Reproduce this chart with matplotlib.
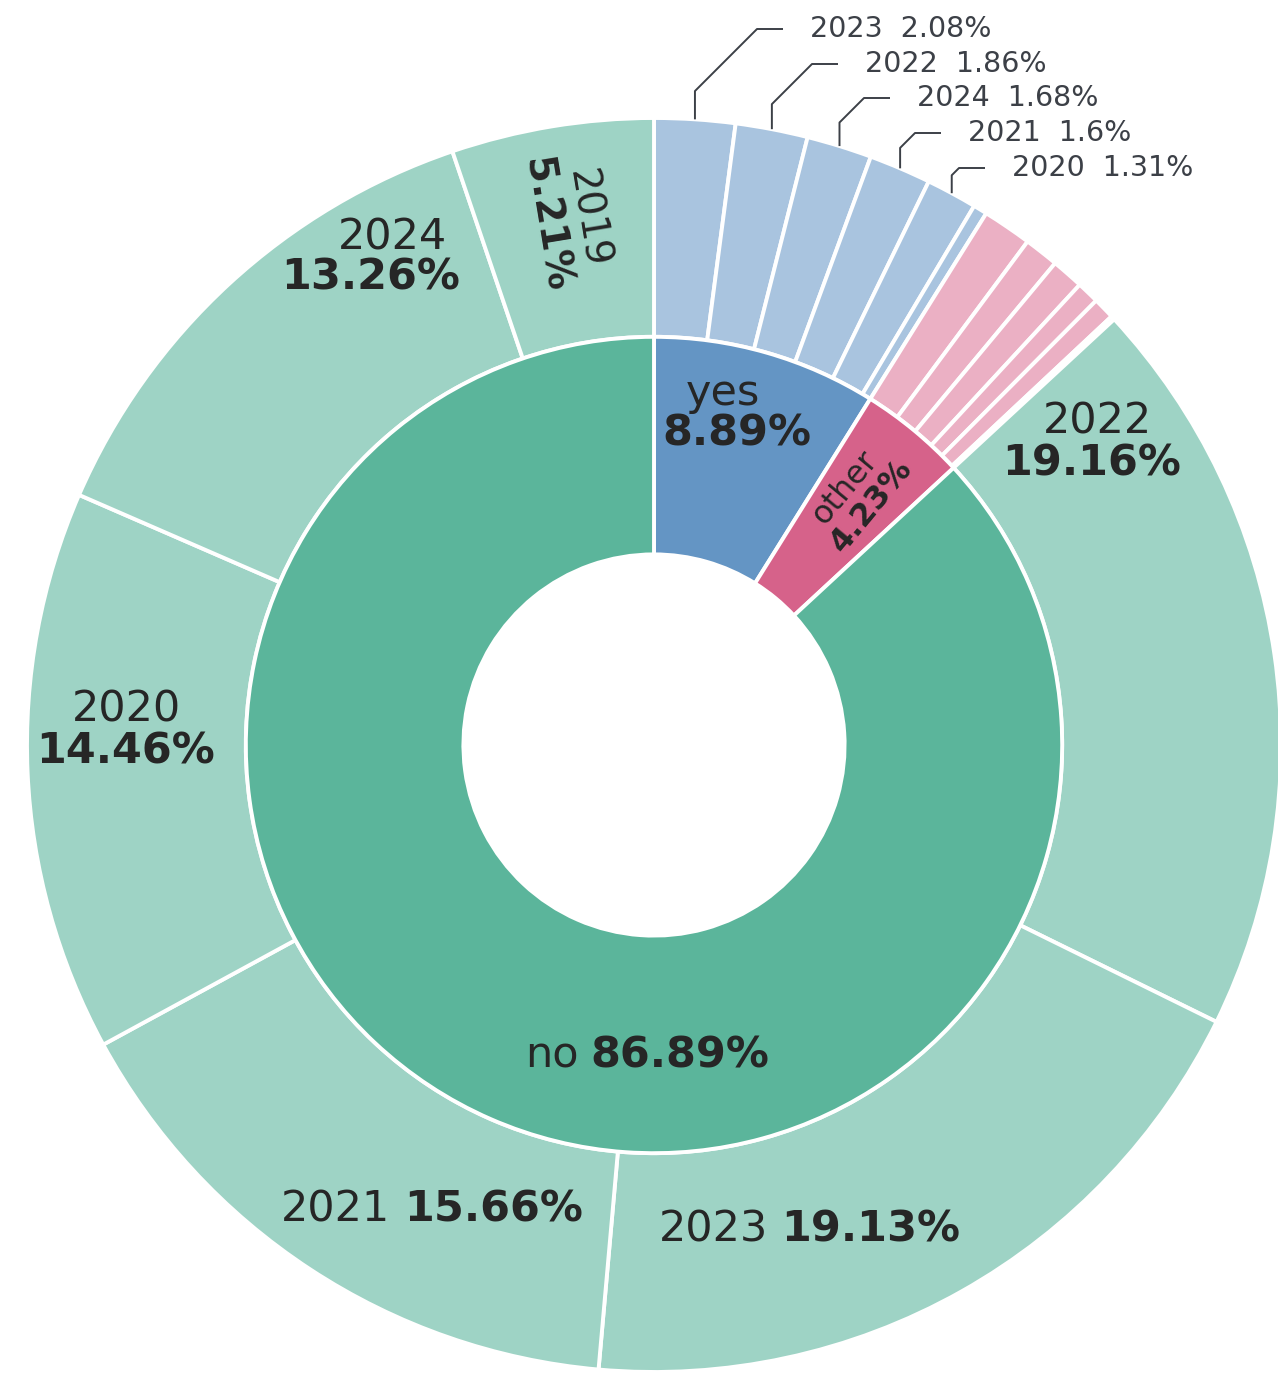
import numpy as np
import matplotlib
matplotlib.use("Agg")
import matplotlib.pyplot as plt

# ---------------- data ----------------
inner_labels = ["yes", "other", "no"]
inner_values = [8.89, 4.23, 86.89]

yes_years = ["2023", "2022", "2024", "2021", "2020", "2019"]
yes_values = [2.08, 1.86, 1.68, 1.60, 1.31, 0.36]

other_values = [1.27, 0.89, 0.83, 0.58, 0.56, 0.10]

no_years = ["2022", "2023", "2021", "2020", "2024", "2019"]
no_values = [19.16, 19.13, 15.66, 14.46, 13.26, 5.21]

# ---------------- style ----------------
C_NO_IN, C_NO_OUT = "#5bb59b", "#9ed3c5"
C_YES_IN, C_YES_OUT = "#6495c4", "#a9c4df"
C_OTH_IN, C_OTH_OUT = "#d6628a", "#ebb0c4"
TXT = "#262626"
SMALL_TXT = "#3c4047"

W, H = 1278, 1378
CX, CY, S = 654, 745, 627  # centre (px) and px per unit radius

fig = plt.figure(figsize=(W / 100, H / 100), dpi=100)
ax = fig.add_axes([0, 0, 1, 1])

R_OUT, R_MID, R_HOLE = 1.0, 0.651, 0.304
wp = dict(edgecolor="white", linewidth=2.8)

outer_values = yes_values + other_values + no_values
outer_colors = ([C_YES_OUT] * len(yes_values) + [C_OTH_OUT] * len(other_values)
                + [C_NO_OUT] * len(no_values))
ax.pie(outer_values, radius=R_OUT, startangle=90, counterclock=False,
       colors=outer_colors, wedgeprops=dict(width=R_OUT - R_MID, **wp))
ax.pie(inner_values, radius=R_MID, startangle=90, counterclock=False,
       colors=[C_YES_IN, C_OTH_IN, C_NO_IN],
       wedgeprops=dict(width=R_MID - R_HOLE, **wp))

ax.set_xlim(-CX / S, (W - CX) / S)
ax.set_ylim(-(H - CY) / S, CY / S)
ax.set_aspect("equal")
ax.axis("off")


def P(x, y):
    return ((x - CX) / S, (CY - y) / S)


def txt(s, x, y, size, bold=False, ha="center", rot=0, color=TXT):
    ax.text(*P(x, y), s, fontsize=size, fontweight="bold" if bold else "normal",
            ha=ha, va="center", rotation=rot, rotation_mode="anchor", color=color)


tot_in = sum(inner_values)
other_mid = 90 - (inner_values[0] + inner_values[1] / 2) / tot_in * 360
tot_out = sum(outer_values)
nineteen_mid = 90 + no_values[-1] / 2 / tot_out * 360

BIG = 31
# inner labels
txt("yes", 723, 393, BIG)
txt("8.89%", 737, 434, BIG, bold=True)
txt("other", 845, 488, 23, rot=other_mid)
txt("4.23%", 871, 506, 23, bold=True, rot=other_mid)
txt("no", 579, 1055, BIG, ha="right")
txt("86.89%", 590, 1055, BIG, bold=True, ha="left")

# outer "no" labels
txt("2022", 1097, 421, BIG)
txt("19.16%", 1092, 463, BIG, bold=True)
txt("2023", 768, 1230, BIG, ha="right")
txt("19.13%", 781, 1230, BIG, bold=True, ha="left")
txt("2021", 390, 1210, BIG, ha="right")
txt("15.66%", 404, 1210, BIG, bold=True, ha="left")
txt("2020", 126, 710, BIG)
txt("14.46%", 126, 752, BIG, bold=True)
txt("2024", 392, 237, BIG)
txt("13.26%", 371, 277, BIG, bold=True)
txt("2019", 588, 218, 28, rot=nineteen_mid - 180)
txt("5.21%", 546, 225, 28, bold=True, rot=nineteen_mid - 180)

# small labels for the "yes" years with leader lines
small_pos = [(810, 29), (865, 64), (917, 98), (968, 133), (1012, 168)]
cum = 0.0
for year, val, (tx, ty) in zip(yes_years, yes_values, small_pos):
    mid = np.radians(90 - (cum + val / 2) / tot_out * 360)
    cum += val
    p0 = np.array([np.cos(mid), np.sin(mid)]) * R_OUT
    tdx, tdy = P(tx, ty)
    corner_x = tdx - 53 / S
    hend_x = tdx - 27 / S
    p1y = tdy - (corner_x - p0[0])
    p1y = max(p1y, p0[1])
    ax.plot([p0[0], p0[0], corner_x, hend_x], [p0[1], p1y, tdy, tdy],
            color=SMALL_TXT, lw=1.4, solid_capstyle="butt")
    ax.text(tdx, tdy, f"{year}  {val:g}%", fontsize=20.5, ha="left", va="center",
            color=SMALL_TXT)

fig.savefig("out.png", dpi=100)
